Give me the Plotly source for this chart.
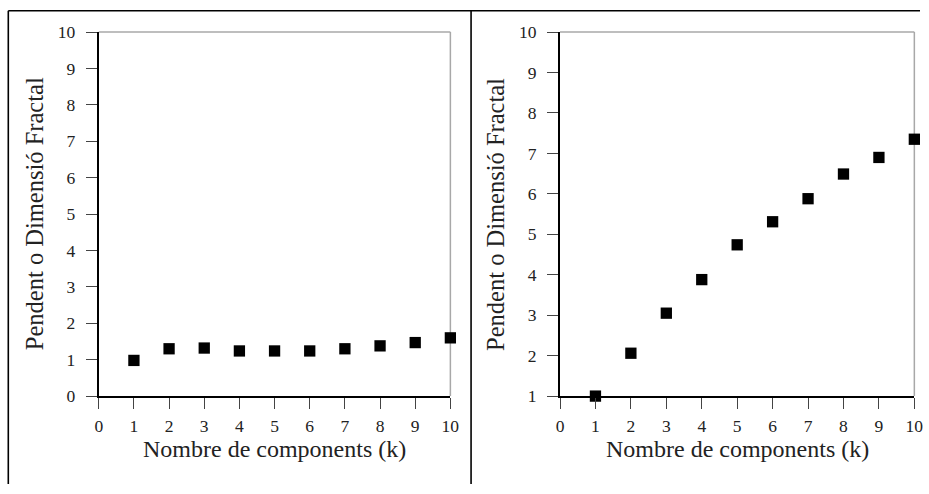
import plotly.graph_objects as go

k_values = [1, 2, 3, 4, 5, 6, 7, 8, 9, 10]
left_values = [0.98, 1.30, 1.32, 1.24, 1.24, 1.24, 1.30, 1.38, 1.47, 1.60]
right_values = [1.00, 2.06, 3.05, 3.88, 4.74, 5.31, 5.88, 6.49, 6.90, 7.35]
x_tick_values = [0, 1, 2, 3, 4, 5, 6, 7, 8, 9, 10]
left_y_ticks = [0, 1, 2, 3, 4, 5, 6, 7, 8, 9, 10]
right_y_ticks = [1, 2, 3, 4, 5, 6, 7, 8, 9, 10]
x_title = "Nombre de components (k)"
y_title = "Pendent o Dimensió Fractal"

W, H = 929, 494
FONT = "Liberation Serif"

# mapping from target picture pixels to figure pixels (measured from the renders)
SX, BX = 0.9865, 3.7
SY, BY = 0.962, 8.4


def fx(px):
    return ((px - BX) / SX) / W


def fy(py):
    return (H - (py - BY) / SY) / H


fig = go.Figure()
fig.add_trace(go.Scatter(x=k_values, y=left_values, mode="markers",
                         marker=dict(symbol="square", size=11.3, color="black"),
                         cliponaxis=False, showlegend=False, xaxis="x", yaxis="y"))
fig.add_trace(go.Scatter(x=k_values, y=right_values, mode="markers",
                         marker=dict(symbol="square", size=11.3, color="black"),
                         cliponaxis=False, showlegend=False, xaxis="x2", yaxis="y2"))

ydom = [fy(395.5), fy(30.5)]
axis_common = dict(showline=True, linecolor="black", linewidth=1.5,
                   ticks="outside", ticklen=11.3, tickwidth=1, tickcolor="#444",
                   showgrid=False, zeroline=False,
                   tickfont=dict(family=FONT, size=17.5, color="#222"))

fig.update_layout(
    width=W, height=H,
    margin=dict(l=0, r=0, t=0, b=0),
    paper_bgcolor="white", plot_bgcolor="white",
    xaxis=dict(domain=[fx(98.5), fx(450.3)], range=[0, 10], tickvals=x_tick_values,
               anchor="y", ticklabelstandoff=2, **axis_common),
    yaxis=dict(domain=ydom, range=[0, 10], tickvals=left_y_ticks,
               anchor="x", ticklabelstandoff=7, **axis_common),
    xaxis2=dict(domain=[fx(560), fx(914.5)], range=[0, 10], tickvals=x_tick_values,
                anchor="y2", ticklabelstandoff=2, **axis_common),
    yaxis2=dict(domain=ydom, range=[1, 10], tickvals=right_y_ticks,
                anchor="x2", ticklabelstandoff=7, **axis_common),
)

shapes = []
for xr, yr in [("x domain", "y domain"), ("x2 domain", "y2 domain")]:
    shapes.append(dict(type="line", xref=xr, yref=yr, x0=0, x1=1, y0=1, y1=1,
                       line=dict(color="#a8a8a8", width=1.5), layer="below"))
    shapes.append(dict(type="line", xref=xr, yref=yr, x0=1, x1=1, y0=0, y1=1,
                       line=dict(color="#a8a8a8", width=1.5), layer="below"))
top_y = 1 - 0.8 / H
left_x = fx(8)
shapes.append(dict(type="line", xref="paper", yref="paper", x0=left_x, x1=1, y0=top_y, y1=top_y,
                   line=dict(color="black", width=1.6)))
shapes.append(dict(type="line", xref="paper", yref="paper", x0=left_x, x1=left_x, y0=0, y1=top_y,
                   line=dict(color="black", width=1.6)))
shapes.append(dict(type="line", xref="paper", yref="paper", x0=fx(471), x1=fx(471), y0=0, y1=top_y,
                   line=dict(color="black", width=1.6)))
fig.update_layout(shapes=shapes)

ymid = (ydom[0] + ydom[1]) / 2
annotations = []
for xc, ycx in [((98.5 + 450.3) / 2, 33.8), ((560 + 914.5) / 2, 494.8)]:
    annotations.append(dict(text=x_title, xref="paper", yref="paper",
                            x=fx(xc), y=fy(448.5), xanchor="center", yanchor="middle",
                            showarrow=False, font=dict(family=FONT, size=24, color="#222")))
    annotations.append(dict(text=y_title, xref="paper", yref="paper", textangle=-90,
                            x=fx(ycx), y=ymid, xanchor="center", yanchor="middle",
                            showarrow=False, font=dict(family=FONT, size=24.5, color="#222")))
fig.update_layout(annotations=annotations)

fig.write_html("out.html")
